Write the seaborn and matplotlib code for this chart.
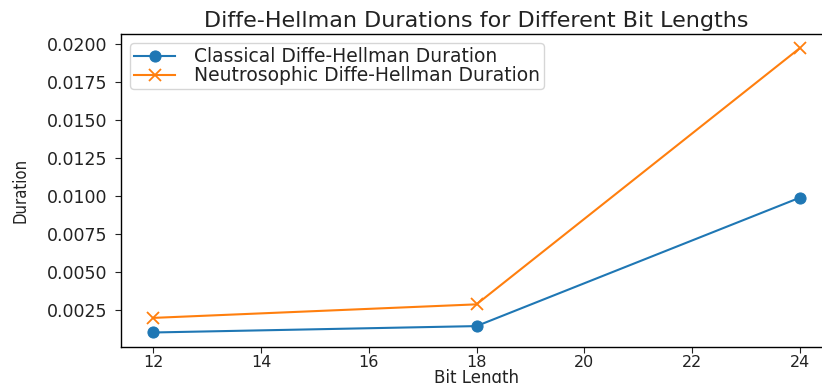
import matplotlib
matplotlib.use('Agg')
import matplotlib.pyplot as plt
import seaborn as sns
import pandas as pd

# Bit lengths and measured durations (seconds)
bit_lengths = [12, 18, 24]
classical_durations = [0.00103, 0.00145, 0.00989]
neutrosophic_durations = [0.00199, 0.00288, 0.01972]

df = pd.DataFrame({
    'Bit Length': bit_lengths,
    'Classical': classical_durations,
    'Neutrosophic': neutrosophic_durations,
})

plt.rcParams['font.family'] = ['DejaVu Sans']

fig = plt.figure(figsize=(8.22, 3.83), dpi=100)
# the reference is cropped on the right and bottom, so the axes run past the figure edge
ax = fig.add_axes([121 / 822, (383 - 346.7) / 383, (832 - 121) / 822, (346.7 - 34) / 383])

sns.lineplot(data=df, x='Bit Length', y='Classical', marker='o', markersize=8,
             markeredgecolor='#1f77b4', color='#1f77b4',
             label='Classical Diffe-Hellman Duration', ax=ax)
sns.lineplot(data=df, x='Bit Length', y='Neutrosophic', marker='x', markersize=8,
             markeredgewidth=1.3, markeredgecolor='#ff7f0e', color='#ff7f0e',
             label='Neutrosophic Diffe-Hellman Duration', ax=ax)

ax.set_xticks([12, 14, 16, 18, 20, 22, 24])
ax.set_yticks([0.0025, 0.0050, 0.0075, 0.0100, 0.0125, 0.0150, 0.0175, 0.0200])
ax.set_yticklabels([f'{v:.4f}' for v in ax.get_yticks()])
ax.tick_params(length=4, colors='#222222')
ax.tick_params(axis='y', labelsize=12.5, pad=6)
ax.tick_params(axis='x', labelsize=11.5, pad=2)
for s in ax.spines.values():
    s.set_color('black')
    s.set_linewidth(1.0)

ax.set_title('Diffe-Hellman Durations for Different Bit Lengths', fontsize=16, pad=5, color='#222222')
ax.set_xlabel('Bit Length', fontsize=12, labelpad=-1, color='#222222')
ax.set_ylabel('Duration', fontsize=12, fontstretch='condensed', labelpad=12, color='#222222')
leg = ax.legend(loc='upper left', fontsize=13.5, handlelength=2.2, borderaxespad=0.5,
                borderpad=0.2, labelspacing=0.0, handletextpad=1.0, frameon=True)
for t in leg.get_texts():
    t.set_color('#222222')

fig.savefig('out.png', dpi=100)
